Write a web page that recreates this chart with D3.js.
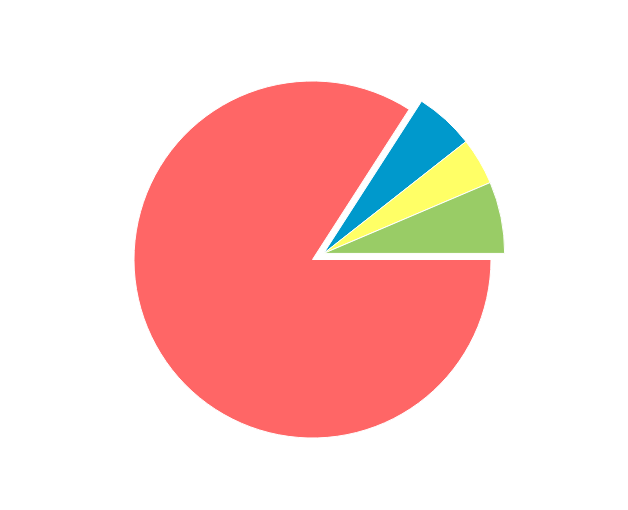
<!DOCTYPE html>
<html>
<head>
<meta charset="utf-8">
<script src="https://cdn.jsdelivr.net/npm/d3@7"></script>
<style>
html,body{margin:0;padding:0;background:#fff;}
svg{display:block;}
</style>
</head>
<body>
<svg id="chart" width="628" height="510"></svg>
<script>
const categories = ["Slice 1", "Slice 2", "Slice 3", "Slice 4"];
const values = [84.1, 5.3, 4.2, 6.4];
const colors = ["#FF6666", "#0099CC", "#FFFF66", "#99CC66"];
const exploded = [false, true, true, true];

const svg = d3.select("#chart");
const cx = 312.5, cy = 259.5, r = 178.5, rEx = 181, explodeDist = 12.7;

const data = categories.map((c, i) => ({name: c, value: values[i], color: colors[i], exploded: exploded[i]}));
const pie = d3.pie().value(d => d.value).sort(null)
  .startAngle(Math.PI / 2).endAngle(Math.PI / 2 + 2 * Math.PI);
const arcs = pie(data);
const arc = d3.arc().innerRadius(0).outerRadius(r);
const arcEx = d3.arc().innerRadius(0).outerRadius(rEx);

const ex = arcs.filter(a => a.data.exploded);
const a0 = d3.min(ex, a => a.startAngle), a1 = d3.max(ex, a => a.endAngle);
const mid = (a0 + a1) / 2;
const dx = Math.sin(mid) * explodeDist, dy = -Math.cos(mid) * explodeDist;

const g = svg.append("g").attr("transform", `translate(${cx},${cy})`);
g.selectAll("path.main").data(arcs.filter(a => !a.data.exploded)).join("path")
  .attr("class", "main")
  .attr("d", arc).attr("fill", d => d.data.color)
  .attr("stroke", "#fff").attr("stroke-width", 1);
const ge = g.append("g").attr("transform", `translate(${dx},${dy})`);
ge.selectAll("path").data(ex).join("path")
  .attr("d", arcEx).attr("fill", d => d.data.color)
  .attr("stroke", "#fff").attr("stroke-width", 1);
</script>
</body>
</html>
